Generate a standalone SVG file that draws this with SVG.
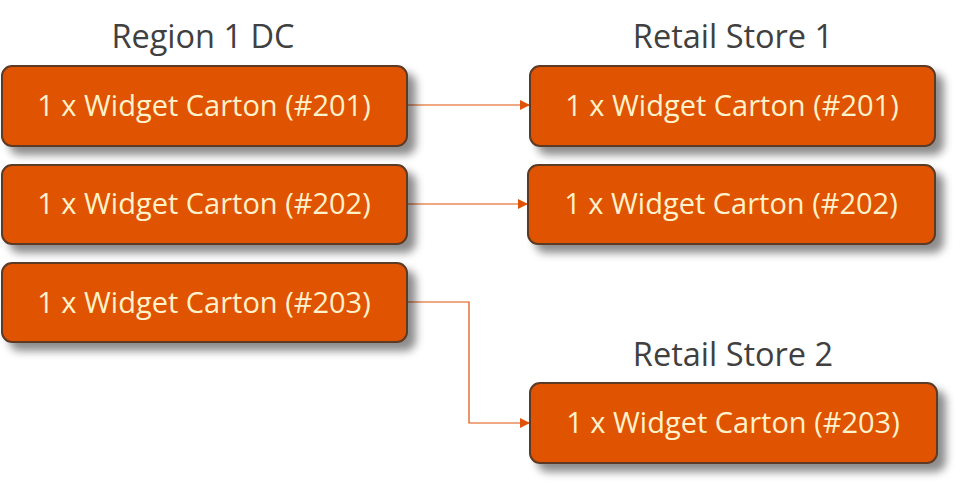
<svg xmlns="http://www.w3.org/2000/svg" width="962" height="488" viewBox="0 0 962 488">
<defs>
<filter id="sh" x="-10%" y="-20%" width="130%" height="160%">
<feGaussianBlur in="SourceAlpha" stdDeviation="4"/>
<feOffset dx="8" dy="8" result="b"/>
<feFlood flood-color="#000" flood-opacity="0.45"/>
<feComposite in2="b" operator="in"/>
<feMerge><feMergeNode/><feMergeNode in="SourceGraphic"/></feMerge>
</filter>
<marker id="arr" viewBox="0 0 10 10" refX="10" refY="5" markerWidth="10" markerHeight="10" markerUnits="userSpaceOnUse" orient="auto">
<path d="M0,0 L10,5 L0,10 z" fill="#E05206"/>
</marker>
</defs>
<style>
.box{fill:#E05206;stroke:#5b3b26;stroke-width:2;filter:url(#sh)}
.t{font-family:"Open Sans","Liberation Sans",sans-serif;font-size:29px;fill:#FFF2CC;text-anchor:middle}
.h{font-family:"Open Sans","Liberation Sans",sans-serif;font-size:32.5px;fill:#404040;text-anchor:middle}
.c{fill:none;stroke:#E05206;stroke-width:1.2;marker-end:url(#arr)}
</style>
<rect width="962" height="488" fill="#fff"/>
<text class="h" x="203" y="48">Region 1 DC</text>
<text class="h" x="733" y="48">Retail Store 1</text>
<text class="h" x="733" y="366">Retail Store 2</text>
<g id="connectors">
<path class="c" d="M407,105 H530"/>
<path class="c" d="M407,204 H528"/>
<path class="c" d="M407,302 H469 V423 H530"/>
</g>
<g id="dc201"><rect class="box" x="2" y="66" width="405" height="80" rx="10"/><text class="t" x="204" y="116">1 x Widget Carton (#201)</text></g>
<g id="dc202"><rect class="box" x="2" y="165" width="405" height="79" rx="10"/><text class="t" x="204" y="214">1 x Widget Carton (#202)</text></g>
<g id="dc203"><rect class="box" x="2" y="263" width="405" height="79" rx="10"/><text class="t" x="204" y="313">1 x Widget Carton (#203)</text></g>
<g id="rs201"><rect class="box" x="530" y="66" width="405" height="80" rx="10"/><text class="t" x="732" y="116">1 x Widget Carton (#201)</text></g>
<g id="rs202"><rect class="box" x="528" y="165" width="407" height="79" rx="10"/><text class="t" x="731" y="214">1 x Widget Carton (#202)</text></g>
<g id="rs203"><rect class="box" x="530" y="383" width="407" height="80" rx="10"/><text class="t" x="733" y="433">1 x Widget Carton (#203)</text></g>
</svg>
